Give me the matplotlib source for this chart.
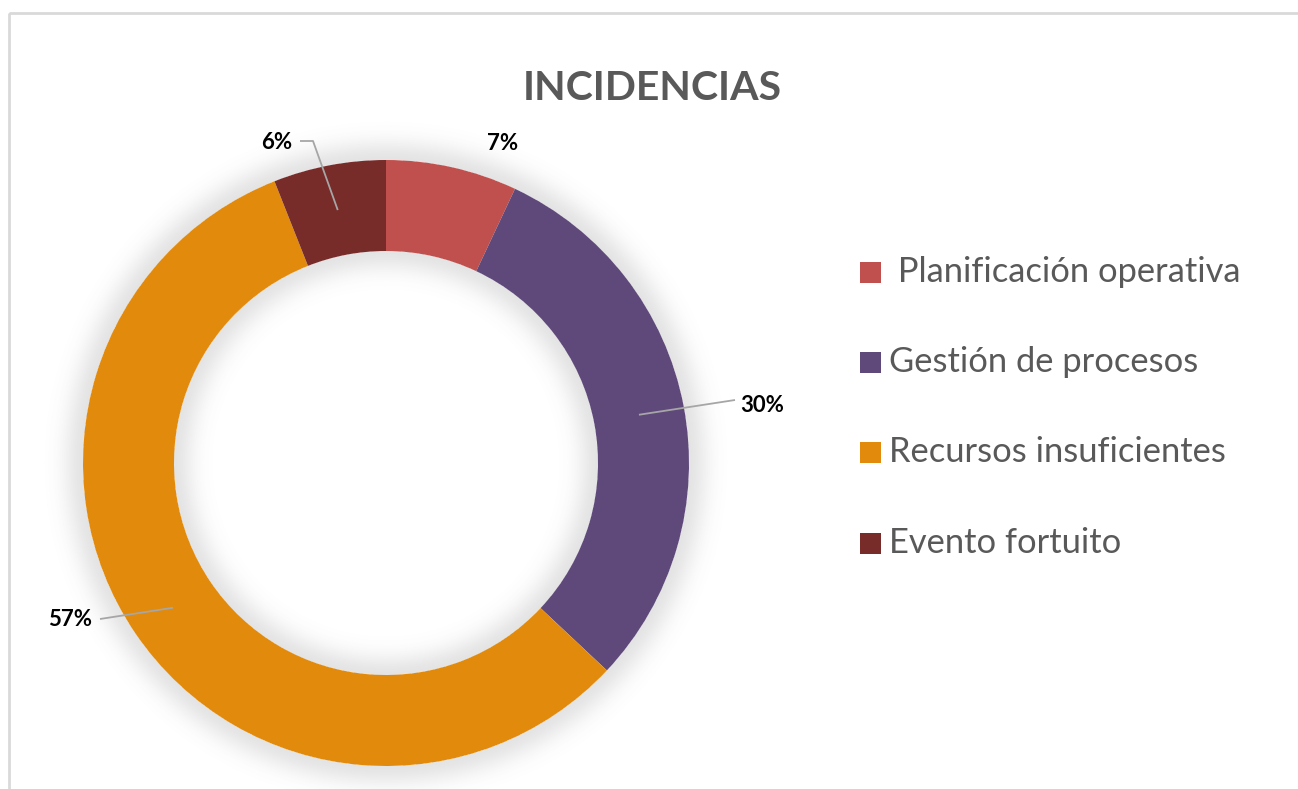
import numpy as np
import matplotlib
matplotlib.use("Agg")
import matplotlib.pyplot as plt
from matplotlib.patches import Rectangle

# ---- data ----
categories = [" Planificación operativa", "Gestión de procesos", "Recursos insuficientes", "Evento fortuito"]
values = [7, 30, 57, 6]
pct_labels = ["7%", "30%", "57%", "6%"]
colors = ["#C0504D", "#5F497A", "#E28A0C", "#772C2A"]
title = "INCIDENCIAS"

W, H = 1298, 789
plt.rcParams['font.family'] = ['Lato', 'DejaVu Sans']

fig = plt.figure(figsize=(W / 100, H / 100), dpi=100)
ax = fig.add_axes([0, 0, 1, 1])
ax.set_axis_off()

def Y(py):
    return H - py

cx, cy = 386, Y(463)
R, ring = 303, 91

# soft shadow glow around the ring
yy, xx = np.mgrid[0:H, 0:W]
rr = np.hypot(xx + 0.5 - cx, (H - yy - 0.5) - cy)
d = np.maximum(0, np.maximum(rr - R, (R - ring) - rr))
alpha = 0.16 * np.exp(-(d / 20.0) ** 2)
alpha[d == 0] = 0
img = np.zeros((H, W, 4))
img[..., :3] = 0.35
img[..., 3] = alpha
ax.imshow(img, extent=(0, W, 0, H), origin='upper', zorder=0, interpolation='bilinear')

wedges, _ = ax.pie(values, colors=colors, startangle=90, counterclock=False,
                   center=(cx, cy), radius=R,
                   wedgeprops=dict(width=ring, edgecolor='none'))
for w in wedges:
    w.set_zorder(2)

# percentage labels with leader lines
cum = np.cumsum([0] + values[:-1])
total = float(sum(values))
mid_angles = [np.deg2rad(90 - 360 * (c + v / 2) / total) for c, v in zip(cum, values)]
rmid = R - ring / 2

label_cfg = [
    dict(txt=(503, 143), ha='center', path=None),
    dict(txt=(740, 405), ha='left', path=[(735, 400)]),
    dict(txt=(92, 620), ha='right', path=[(100, 619)]),
    dict(txt=(292, 142), ha='right', path=[(313, 141), (300, 141)]),
]
for lab, ang, cfg in zip(pct_labels, mid_angles, label_cfg):
    if cfg['path']:
        sx, sy = cx + rmid * np.cos(ang), cy + rmid * np.sin(ang)
        xs = [sx] + [p[0] for p in cfg['path']]
        ys = [sy] + [Y(p[1]) for p in cfg['path']]
        ax.plot(xs, ys, color='#A6A6A6', lw=1.3, zorder=3, solid_capstyle='butt')
    tx, ty = cfg['txt']
    ax.text(tx, Y(ty), lab, ha=cfg['ha'], va='center', fontsize=16,
            fontweight='bold', color='black', zorder=4)

# title
ax.text(652, Y(88), title, ha='center', va='center', fontsize=29.5,
        fontweight='bold', color='#595959')

# legend
leg_y = [272, 362, 452, 543]
for cat, col, ly in zip(categories, colors, leg_y):
    ax.add_patch(Rectangle((860, Y(ly) - 10.5), 21, 21, facecolor=col, edgecolor='none'))
    ax.text(889, Y(ly), cat, ha='left', va='center', fontsize=24.8, color='#595959')

# chart border
ax.add_patch(Rectangle((9, Y(13)), W + 20, -(H + 20), facecolor='none',
                       edgecolor='#D9D9D9', lw=2, zorder=5))

ax.set_xlim(0, W)
ax.set_ylim(0, H)
ax.set_aspect('auto')
fig.savefig("out.png", dpi=100)
